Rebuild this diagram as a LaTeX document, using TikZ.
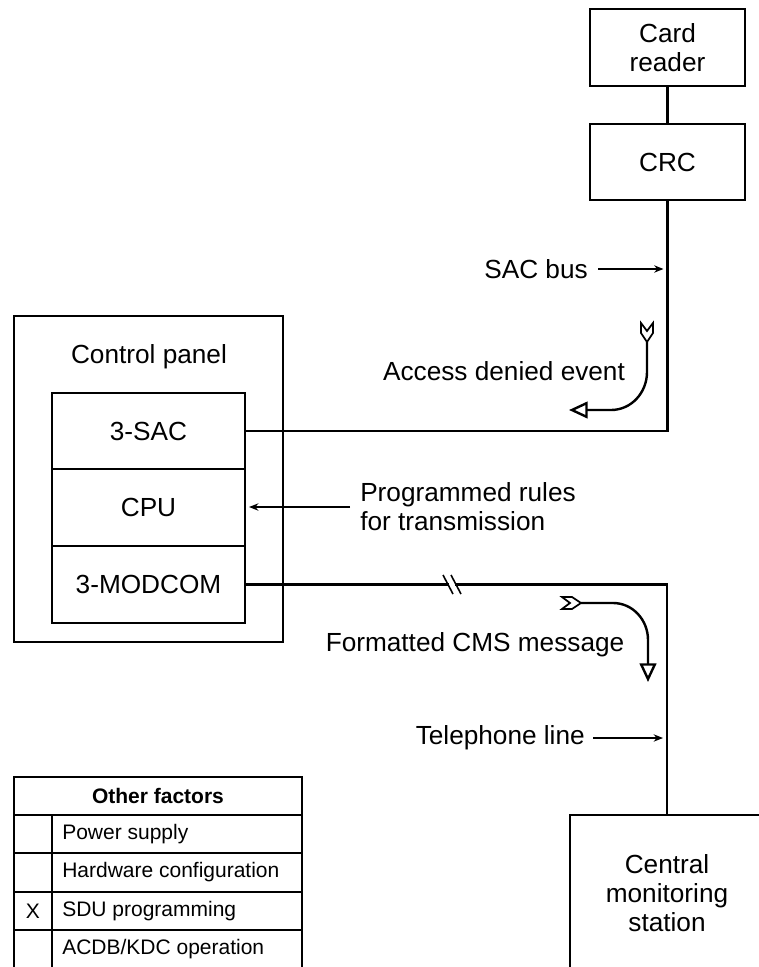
\documentclass[tikz,border=0pt]{standalone}
\usepackage{fontspec}
\setmainfont{Liberation Sans}
\usetikzlibrary{arrows.meta}

\begin{document}
\begin{tikzpicture}[x=0.75pt,y=-0.75pt,
    txt/.style={font=\fontsize{19.65}{21.8}\selectfont,align=center,inner sep=0pt},
    unit/.style={draw,line width=1.6pt,txt},
    small/.style={font=\fontsize{15.75}{18}\selectfont,inner sep=0pt},
    wire/.style={line width=1.8pt},
    ptr/.style={line width=1.1pt,-{Stealth[length=7pt,width=5.5pt]}},
    flow/.style={line width=1.8pt,-{Triangle[open,length=14pt,width=12.5pt]}},
    fletch/.style={line width=1.3pt,line join=miter}]
  \useasboundingbox (0,0) rectangle (759,967);
  \clip (0,0) rectangle (759,967);

  \node[unit,minimum width=116.25pt,minimum height=57.75pt] (reader) at (667.5,47.5) {Card\\reader};
  \node[unit,minimum width=116.25pt,minimum height=57pt] (crc) at (667.5,162) {CRC};
  \node[unit,minimum width=201.75pt,minimum height=244.5pt] (panel) at (148.5,479) {};
  \node[txt] (paneltitle) at (149,357) {Control panel};
  \node[unit,minimum width=144.75pt,minimum height=57pt] (sac) at (148.5,431) {3-SAC};
  \node[unit,minimum width=144.75pt,minimum height=57.75pt] (cpu) at (148.5,507.5) {CPU};
  \node[unit,minimum width=144.75pt,minimum height=57.75pt] (modcom) at (148.5,584.5) {3-MODCOM};
  \node[unit,minimum width=145.5pt,minimum height=117pt] (cms) at (667,893) {Central\\monitoring\\station};

  \draw[wire] (reader) -- (crc);
  \draw[wire] (crc) -- (crc.south |- sac.east) -- (sac);
  \coordinate (brk1) at (449,584.5);
  \coordinate (brk2) at (455,584.5);
  \draw[wire] (modcom) -- (brk1);
  \draw[wire] (brk2) -- (brk2 -| cms.north) -- (cms);
  \draw[line width=1.2pt] (443,575) -- (453,594) (451,575) -- (461,594);

  \node[txt,anchor=east] (sacbus) at (588,269) {SAC bus};
  \draw[ptr,shorten <=7.5pt,shorten >=3pt] (sacbus) -- (sacbus -| crc.south);
  \node[txt,align=left,anchor=west] (rules) at (360,507) {Programmed rules\\for transmission};
  \draw[ptr,shorten <=7.5pt,shorten >=2.25pt] (rules) -- (rules -| cpu.east);
  \node[txt,anchor=east] (phone) at (585,738) {Telephone line};
  \draw[ptr,shorten <=6pt,shorten >=3pt] (phone) -- (phone -| cms.north);

  \node[txt] (deny) at (504,371) {Access denied event};
  \coordinate (deny0) at (647,342);
  \coordinate (deny1) at (569,410);
  \draw[fletch] (deny0) -- ++(-6,-9) -- ++(0,-10) -- ++(6,8) -- ++(6,-8) -- ++(0,10) -- cycle;
  \draw[flow] (deny0) -- (647,372) to[out=-90,in=0] (611,410) -- (deny1);
  \node[txt] (msg) at (475,645) {Formatted CMS message};
  \coordinate (msg0) at (581,603);
  \coordinate (msg1) at (648,682);
  \draw[fletch] (msg0) -- ++(-9,-6) -- ++(-10,0) -- ++(8,6) -- ++(-8,6) -- ++(10,0) -- cycle;
  \draw[flow] (msg0) -- (613,603) to[out=0,in=90] (648,640) -- (msg1);

  \draw[line width=1.6pt] (14,777) rectangle (302,1000);
  \draw[line width=1.6pt] (14,815) -- (302,815) (52,815) -- (52,1000);
  \foreach \y in {853,892,930,968}
    \draw[line width=1.6pt] (14,\y) -- (302,\y);
  \node[small,font=\fontsize{15.75}{18}\selectfont\bfseries] (head) at (158,796) {Other factors};
  \foreach \t [count=\i] in {Power supply,Hardware configuration,SDU programming,ACDB/KDC operation}
    \node[small,anchor=west] (factor\i) at (62,{834+38.3*(\i-1)}) {\t};
  \node[small] (mark) at (33,911) {X};
\end{tikzpicture}
\end{document}
